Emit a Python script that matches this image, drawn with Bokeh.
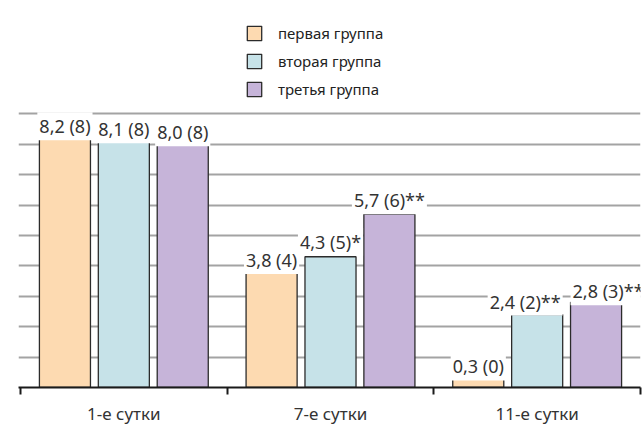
from bokeh.plotting import figure
from bokeh.models import FixedTicker, Range1d, Legend, LegendItem, ColumnDataSource
from bokeh.core.properties import value
from bokeh.embed import file_html
from bokeh.resources import INLINE

categories = ["1-е сутки", "7-е сутки", "11-е сутки"]
series_names = ["первая группа", "вторая группа", "третья группа"]
group1 = [8.2, 3.8, 0.3]
group2 = [8.1, 4.3, 2.4]
group3 = [8.0, 5.7, 2.8]
paren1 = [8, 4, 0]
paren2 = [8, 5, 2]
paren3 = [8, 6, 3]
mark1 = ["", "", ""]
mark2 = ["", "*", "**"]
mark3 = ["", "**", "**"]
grid_values = [1, 2, 3, 4, 5, 6, 7, 8, 9]

colors = ["#FDDAB1", "#C6E2E8", "#C6B4D9"]
offsets = [-0.285, 0.0, 0.285]
label_dx = [[0, 0, 0], [0, 0, -12], [0, 0, 12]]
label_dy = [[-12, -12, -12], [-12, -15, -13], [-12, -14, -11]]

FONT = "Noto Sans"

p = figure(width=643, height=427, output_backend="svg", toolbar_location=None,
           x_range=Range1d(-0.0097, 3.0), y_range=Range1d(0, 12.4),
           min_border_left=18, min_border_right=3, min_border_top=10,
           min_border_bottom=36)
p.outline_line_color = None
p.background_fill_color = "white"
p.border_fill_color = "white"

p.yaxis.visible = False
p.xgrid.visible = False
p.ygrid.ticker = FixedTicker(ticks=grid_values)
p.ygrid.grid_line_color = "#A3A3A3"
p.ygrid.grid_line_width = 2

centers = [0.5, 1.5, 2.5]

xa = p.xaxis[0]
xa.ticker = FixedTicker(ticks=centers, minor_ticks=[0, 1, 2, 3])
xa.major_label_overrides = {centers[i]: categories[i] for i in range(3)}
xa.major_tick_line_color = None
xa.major_tick_out = 0
xa.major_tick_in = 0
xa.minor_tick_out = 7
xa.minor_tick_in = 0
xa.minor_tick_line_color = "#1a1a1a"
xa.minor_tick_line_width = 2
xa.axis_line_color = "#1a1a1a"
xa.axis_line_width = 2
xa.major_label_text_font = FONT
xa.major_label_text_font_size = "17px"
xa.major_label_text_color = "#333333"
xa.major_label_text_line_height = 0.6
xa.major_label_standoff = 7

groups = [group1, group2, group3]
parens = [paren1, paren2, paren3]
marks = [mark1, mark2, mark3]

renderers = []
for s in range(3):
    xs = [c + offsets[s] for c in centers]
    src = ColumnDataSource(dict(x=xs, top=groups[s]))
    r = p.vbar(x="x", top="top", width=0.247, bottom=0, source=src,
               fill_color=colors[s], line_color="#2b2b2b", line_width=1.3)
    renderers.append(r)

for s in range(3):
    for i in range(3):
        v = groups[s][i]
        txt = f"{v:.1f}".replace(".", ",") + f" ({parens[s][i]})" + marks[s][i]
        p.text(x=[centers[i] + offsets[s]], y=[v], text=[txt],
               x_offset=label_dx[s][i], y_offset=label_dy[s][i],
               text_align="center", text_baseline="alphabetic",
               text_font=value(FONT), text_font_size="18px", text_color="#333333",
               background_fill_color="white", padding=2)

legend = Legend(items=[LegendItem(label=series_names[s], renderers=[renderers[s]]) for s in range(3)],
                location=(227, 288), orientation="vertical",
                glyph_width=18, glyph_height=18, label_height=18, spacing=8,
                label_standoff=15, padding=0, margin=0,
                border_line_color=None, background_fill_alpha=0,
                label_text_font=FONT, label_text_font_size="15px",
                label_text_color="#222222")
p.add_layout(legend)

open("out.html", "w").write(file_html(p, INLINE))
